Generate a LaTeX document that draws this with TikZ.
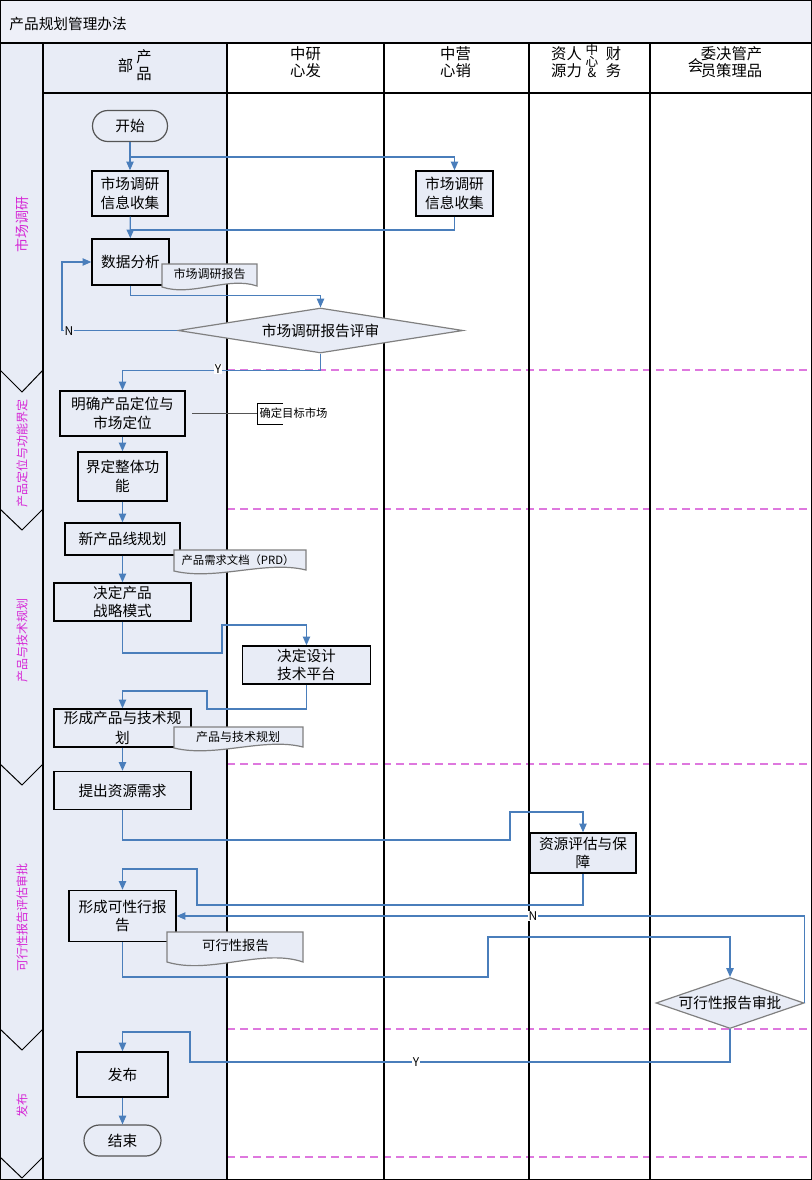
\documentclass[tikz,border=0pt]{standalone}
\usepackage{fontspec}
\setmainfont{Noto Sans CJK SC}
\usetikzlibrary{arrows.meta,shapes.geometric}

\definecolor{lanefill}{RGB}{232,236,246}
\definecolor{titlefill}{RGB}{238,240,248}
\definecolor{flowline}{RGB}{74,126,187}
\definecolor{shapeedge}{RGB}{128,128,128}
\definecolor{termedge}{RGB}{85,85,85}
\definecolor{phasetxt}{RGB}{214,40,214}
\definecolor{phasedash}{RGB}{222,120,222}

\tikzset{every picture/.style={line width=0.75pt}}

\begin{document}
\begin{tikzpicture}[x=0.75pt,y=0.75pt,yscale=-1,xscale=1,
  sz/.style 2 args={minimum width=#1*0.75pt,minimum height=#2*0.75pt},
  procbox/.style={draw=black,line width=1.1pt,fill=lanefill,inner sep=0pt,align=center,font=\fontsize{11}{14}\selectfont},
  termbox/.style={draw=termedge,line width=0.9pt,fill=lanefill,rounded corners=11.5pt,inner sep=0pt,font=\fontsize{11}{14}\selectfont},
  decbox/.style={diamond,draw=shapeedge,line width=0.9pt,fill=lanefill,inner sep=0pt,font=\fontsize{11}{14}\selectfont},
  docshape/.style={draw=shapeedge,line width=0.9pt,fill=lanefill},
  doctext/.style={inner sep=0.75pt,font=\fontsize{9}{11}\selectfont},
  flow/.style={draw=flowline,line width=0.9pt,-{Triangle[length=6.5pt,width=5.5pt]}},
  flowplain/.style={draw=flowline,line width=0.9pt},
  phasetext/.style={rotate=90,text=phasetxt,inner sep=0.75pt,font=\fontsize{9}{11}\selectfont},
  headtext/.style={align=center,inner sep=0.75pt,font=\fontsize{11.5}{12.75}\selectfont},
  ynlabel/.style={inner sep=0.5pt,font=\fontsize{9}{10}\selectfont},
  phaseline/.style={draw=phasedash,line width=1pt,dash pattern=on 6pt off 3.75pt}]
\useasboundingbox (0,0) rectangle (812,1180);

%Shape: Rectangle
\draw [draw=none,fill=titlefill] (0,0) rectangle (812,43);
%Shape: Rectangle
\draw [draw=none,fill=lanefill] (0,43) rectangle (227,1180);

%Straight Lines
\draw [phaseline] (227,370) -- (812,370);
\draw [phaseline] (227,509) -- (812,509);
\draw [phaseline] (227,764) -- (812,764);
\draw [phaseline] (227,1029) -- (812,1029);
\draw [phaseline] (227,1157) -- (812,1157);

%Straight Lines
\draw [line width=1pt] (43,43) -- (43,1180);
\draw [line width=1pt] (227,43) -- (227,1180);
\draw [line width=1pt] (384,43) -- (384,1180);
\draw [line width=1pt] (529,43) -- (529,1180);
\draw [line width=1pt] (650,43) -- (650,1180);
\draw [line width=1pt] (43,93) -- (812,93);
\draw [line width=2pt] (0,43) -- (812,43);
%Shape: Rectangle
\draw [line width=1.2pt] (0.6,0.6) rectangle (811.4,1179.4);

%Shape: Chevron
\draw (0,370) -- (22,392) -- (43,370);
\draw (0,509) -- (22,530) -- (43,509);
\draw (0,764) -- (22,785) -- (43,764);
\draw (0,1029) -- (22,1050) -- (43,1029);
\draw (0,1157) -- (22,1178) -- (43,1157);

% Text Node
\draw (8,24) node [anchor=west][inner sep=0.75pt,font=\fontsize{11}{14}\selectfont] (title) {产品规划管理办法};
% Text Node
\draw (22,225) node [phasetext,font=\fontsize{10.5}{12}\selectfont] (ph1) {市场调研};
\draw (22,453) node [phasetext] (ph2) {产品定位与功能界定};
\draw (22,640) node [phasetext] (ph3) {产品与技术规划};
\draw (22,917) node [phasetext] (ph4) {可行性报告评估审批};
\draw (22,1105) node [phasetext] (ph5) {发布};

% Text Node
\draw (125.5,66) node [headtext] (hd1a) {部};
\draw (144,65) node [headtext] (hd1b) {产\\品};
\draw (305.5,62) node [headtext] (hd2) {中研\\心发};
\draw (455.5,62) node [headtext] (hd3) {中营\\心销};
\draw (566.5,62) node [headtext] (hd4a) {资人\\源力};
\draw (592,61) node [headtext,font=\fontsize{9.5}{8.5}\selectfont] (hd4b) {中\\心\\\&};
\draw (613.5,62) node [headtext] (hd4c) {财\\务};
\draw (695.5,66) node [headtext] (hd5a) {会};
\draw (731.5,62) node [headtext] (hd5b) {委决管产\\员策理品};

% Process Nodes
\draw (130,126) node [termbox,sz={75}{31}] (start) {开始};
\draw (130,193.5) node [procbox,sz={76}{45}] (mkt1) {市场调研\\信息收集};
\draw (454.5,193.5) node [procbox,sz={77}{45}] (mkt2) {市场调研\\信息收集};
\draw (130.5,262) node [procbox,sz={77}{46}] (ana) {数据分析};
\draw (320.5,330.5) node [decbox,sz={285}{45},shape aspect=6.3] (rev) {市场调研报告评审};
\draw (122.5,413.5) node [procbox,sz={125}{45}] (pos) {明确产品定位与\\市场定位};
\draw (122.5,476.5) node [procbox,sz={89}{49}] (func) {界定整体功\\能};
\draw (122.5,539) node [procbox,sz={115}{32}] (line) {新产品线规划};
\draw (122.5,602) node [procbox,sz={137}{38},font=\fontsize{11}{13.5}\selectfont] (strat) {决定产品\\战略模式};
\draw (306.5,665) node [procbox,sz={128}{38},font=\fontsize{11}{13.5}\selectfont] (tech) {决定设计\\技术平台};
\draw (122.5,728) node [procbox,sz={137}{38},font=\fontsize{11}{14.5}\selectfont] (plan) {形成产品与技术规\\划};
\draw (122.5,790.5) node [procbox,sz={137}{38}] (need) {提出资源需求};
\draw (583,853) node [procbox,sz={106}{40},font=\fontsize{11}{13.5}\selectfont] (eval) {资源评估与保\\障};
\draw (122.5,916) node [procbox,sz={107}{51}] (feas) {形成可性行报\\告};
\draw (730,1003) node [decbox,sz={148}{51},shape aspect=2.9] (appr) {可行性报告审批};
\draw (122.5,1074.5) node [procbox,sz={91}{45}] (pub) {发布};
\draw (122.5,1140.5) node [termbox,sz={77}{31}] (end) {结束};

%Shape: Document
\draw [docshape] (162,287) -- (162,264) -- (257,264) -- (257,286) .. controls (228,276) and (192,297) .. (162,287) -- cycle;
\draw (209.5,274) node [doctext] (rpt) {市场调研报告};
\draw [docshape] (174,571) -- (174,550) -- (306,550) -- (306,570) .. controls (266,560) and (216,581) .. (174,571) -- cycle;
\draw (238,560.5) node [doctext,font=\fontsize{8.5}{10}\selectfont] (prd) {产品需求文档（PRD）};
\draw [docshape] (174,748) -- (174,727) -- (303,727) -- (303,747) .. controls (264,737) and (215,758) .. (174,748) -- cycle;
\draw (238,737) node [doctext] (plandoc) {产品与技术规划};
\draw [docshape] (167,962) -- (167,932) -- (303,932) -- (303,962) .. controls (262,948) and (210,975) .. (167,962) -- cycle;
\draw (235.5,945) node [doctext,font=\fontsize{10}{12}\selectfont] (feasdoc) {可行性报告};

% Annotation
\draw (258,413.5) node [anchor=west][inner sep=0.75pt,font=\fontsize{8.5}{10}\selectfont] (tgt) {确定目标市场};
\coordinate (posnote) at (192,413.5);
\draw [color=termedge] (posnote) -- (tgt.west);
\draw (283,403) -- (257,403) -- (257,424) -- (283,424);

% Connectors
\coordinate (j1) at (130,157);
\coordinate (j2) at (130,230);
\coordinate (nturn) at (62,330.5);
\draw [flow] (start) -- (mkt1);
\draw [flow] (j1) -| (mkt2);
\draw [flow] (mkt1) -- (ana);
\draw [flowplain] (mkt2.south) |- (j2);
\draw [flow] (ana.south) -- ++(0,10) -| (rev.north);
\draw [flow] (rev.west) -- (nturn) |- (ana.west);
\draw (69,331) node [ynlabel,fill=lanefill] (nlab1) {N};
\draw [flow] (rev.south) -- ++(0,17) -| (pos.north);
\draw (218,369) node [ynlabel,fill=white] (ylab1) {Y};
\draw [flow] (pos) -- (func);
\draw [flow] (func) -- (line);
\draw [flow] (line) -- (strat);
\draw [flow] (strat.south) |- (222,653) -- (222,625) -| (tech.north);
\draw [flow] (tech.south) |- (207,709) -- (207,691) -| (plan.north);
\draw [flow] (plan) -- (need);
\draw [flow] (need.south) |- (510,840) -- (510,812) -| (eval.north);
\draw [flow] (eval.south) |- (197,905) -- (197,869) -| (feas.north);
\draw [flow] (feas.south) |- (488,977) -- (488,937) -| (appr.north);
\draw [flow] (appr.east) |- (feas.east);
\draw (533,916) node [ynlabel,fill=white] (nlab2) {N};
\draw [flow] (appr.south) |- (190,1062) -- (190,1032) -| (pub.north);
\draw (416,1062) node [ynlabel,fill=white] (ylab2) {Y};
\draw [flow] (pub) -- (end);
\end{tikzpicture}
\end{document}
